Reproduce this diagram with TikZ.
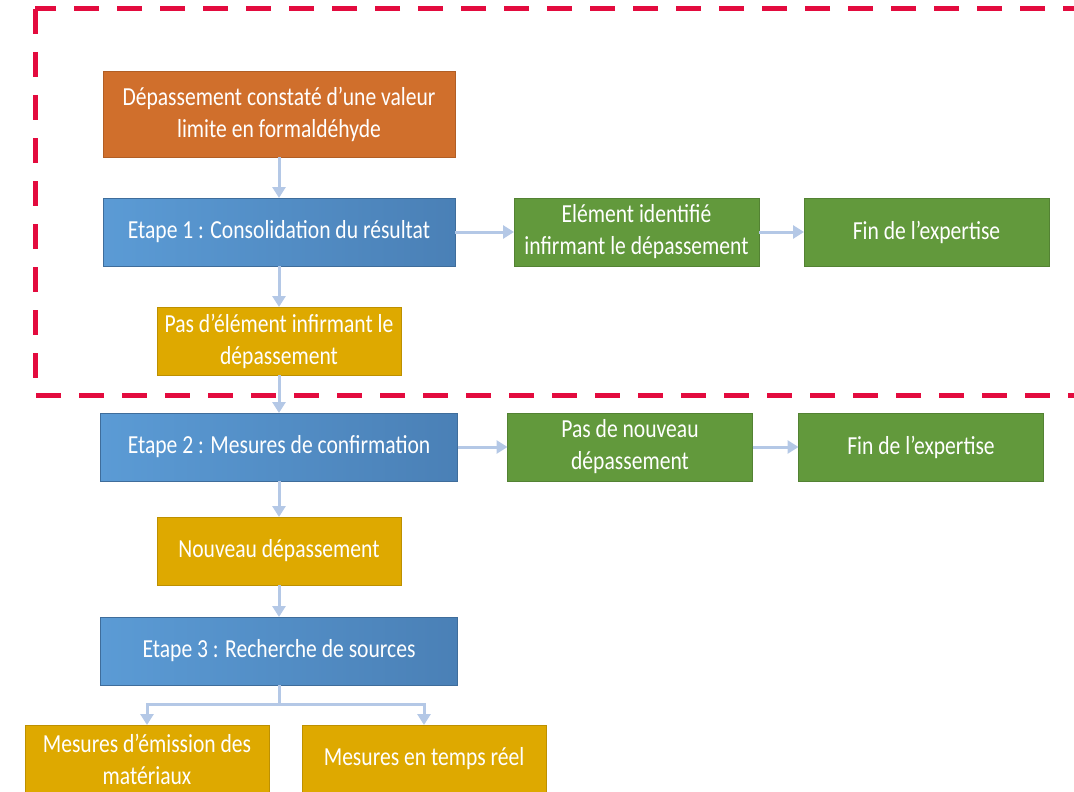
\documentclass[tikz,border=0pt]{standalone}
\usepackage{fontspec}
\setmainfont{Carlito}[FakeStretch=0.83]
\usetikzlibrary{positioning,arrows.meta}
\definecolor{orangebox}{RGB}{208,111,44}
\definecolor{blueL}{RGB}{91,155,213}
\definecolor{blueD}{RGB}{74,128,182}
\definecolor{greenbox}{RGB}{98,153,60}
\definecolor{goldbox}{RGB}{222,169,0}
\definecolor{arrowc}{RGB}{180,200,230}
\definecolor{redframe}{RGB}{227,11,62}
\tikzstyle{base}=[rectangle,outer sep=0pt,inner sep=2pt,align=center,text=white,font=\fontsize{26}{32}\selectfont,minimum height=68pt,line width=0.6pt]
\tikzstyle{start}=[base,fill=orangebox,draw=orangebox!85!black,minimum width=352pt,minimum height=86pt]
\tikzstyle{etape}=[base,left color=blueL,right color=blueD,draw=blueD!85!black,minimum width=357pt]
\tikzstyle{issue}=[base,fill=greenbox,draw=greenbox!85!black,minimum width=245pt]
\tikzstyle{suite}=[base,fill=goldbox,draw=goldbox!85!black,minimum width=244pt]
\tikzstyle{arr}=[-{Triangle[width=13pt,length=11pt]},line width=3pt,draw=arrowc]
\tikzstyle{link}=[line width=3pt,draw=arrowc]
\tikzstyle{frame}=[draw=redframe,line width=5pt,dash pattern=on 25pt off 18pt]

\begin{document}
\begin{tikzpicture}[x=1pt,y=-1pt]
\useasboundingbox (0,0) rectangle (1074,792);
\draw[frame] (35,9) rectangle (1100,395);
\node[start] (A) at (279,114) {Dépassement constaté d’une valeur\\limite en formaldéhyde};
\node[etape, minimum width=352pt, below=41pt of A] (B) {Etape 1 : Consolidation du résultat};
\node[suite, below=41pt of B] (C) {Pas d’élément infirmant le\\dépassement};
\node[etape, below=38pt of C] (D) {Etape 2 : Mesures de confirmation};
\node[suite, below=36pt of D] (E) {Nouveau dépassement};
\node[etape, below=32pt of E] (F) {Etape 3 : Recherche de sources};
\node[suite, below=40pt of F, xshift=-132pt] (G) {Mesures d’émission des\\matériaux};
\node[suite, below=40pt of F, xshift=145pt] (H) {Mesures en temps réel};
\node[issue, right=59pt of B] (I) {Elément identifié\\infirmant le dépassement};
\node[issue, right=45pt of I] (J) {Fin de l’expertise};
\node[issue, right=50pt of D] (K) {Pas de nouveau\\dépassement};
\node[issue, right=46pt of K] (L) {Fin de l’expertise};
\coordinate[below=19pt of F] (split);
\draw[arr] (A) -- (B);
\draw[arr] (B) -- (C);
\draw[arr] (C) -- (D);
\draw[arr] (D) -- (E);
\draw[arr] (E) -- (F);
\draw[arr] (B) -- (I);
\draw[arr] (I) -- (J);
\draw[arr] (D) -- (K);
\draw[arr] (K) -- (L);
\draw[link] (F) -- (split);
\draw[arr] (split) -| (G);
\draw[arr] (split) -| (H);
\end{tikzpicture}
\end{document}
